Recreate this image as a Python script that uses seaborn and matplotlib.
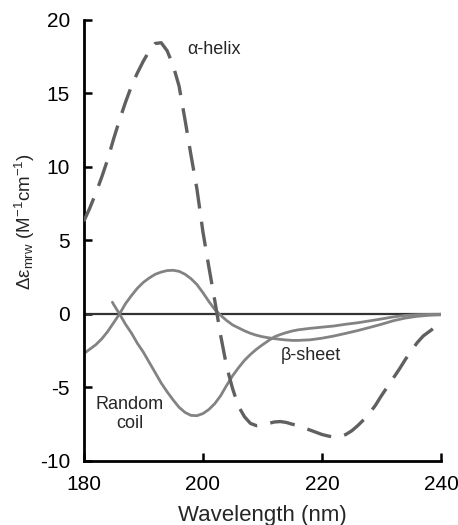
import matplotlib
matplotlib.use("Agg")
import matplotlib.pyplot as plt
import seaborn as sns
import pandas as pd

sns.set_theme(style="ticks")
plt.rcParams['font.family'] = ['Liberation Sans', 'DejaVu Sans']
plt.rcParams['mathtext.fontset'] = 'custom'
plt.rcParams['mathtext.rm'] = 'Liberation Sans'
plt.rcParams['mathtext.it'] = 'Liberation Sans'
plt.rcParams['mathtext.default'] = 'regular'
plt.rcParams['axes.unicode_minus'] = False

# alpha-helix (dashed)
helix_wl = [180, 181, 182, 183, 184, 185, 186, 187, 188, 189, 190, 191, 192, 193, 194, 195, 196, 197,
            198, 199, 200, 201, 202, 203, 204, 205, 206, 207, 208, 209, 210, 211, 212, 213, 214, 215,
            216, 217, 218, 219, 220, 221, 222, 223, 224, 225, 226, 227, 228, 229, 230, 231, 232, 233,
            234, 235, 236, 237, 238, 239, 240]
helix_val = [6.3, 7.2, 8.2, 9.3, 10.5, 11.9, 13.2, 14.4, 15.5, 16.4, 17.2, 17.9, 18.4, 18.45, 17.9, 16.9, 15.5, 13.2,
             10.8, 8.5, 5.6, 3.2, 0.9, -1.5, -3.6, -5.1, -6.3, -7.0, -7.45, -7.6, -7.55, -7.45, -7.35, -7.32, -7.38, -7.5,
             -7.6, -7.75, -7.9, -8.05, -8.2, -8.3, -8.38, -8.35, -8.2, -7.95, -7.6, -7.2, -6.75, -6.2, -5.55, -4.95, -4.35, -3.75,
             -3.1, -2.5, -1.95, -1.5, -1.2, -0.9, -0.63]

# beta-sheet (solid)
sheet_wl = [180, 181, 182, 183, 184, 185, 186, 187, 188, 189, 190, 191, 192, 193, 194, 195, 196, 197,
            198, 199, 200, 201, 202, 203, 204, 205, 206, 207, 208, 209, 210, 211, 212, 213, 214, 215,
            216, 218, 220, 222, 224, 226, 228, 230, 232, 234, 236, 238, 240]
sheet_val = [-2.7, -2.4, -2.1, -1.7, -1.2, -0.6, 0.0, 0.7, 1.25, 1.75, 2.15, 2.45, 2.7, 2.85, 2.95, 2.97, 2.9, 2.7,
             2.4, 2.0, 1.45, 0.85, 0.3, -0.1, -0.45, -0.75, -0.95, -1.15, -1.32, -1.45, -1.55, -1.62, -1.68, -1.73, -1.77, -1.8,
             -1.8, -1.76, -1.65, -1.5, -1.32, -1.13, -0.92, -0.7, -0.46, -0.28, -0.16, -0.09, -0.06]

# random coil (solid)
coil_wl = [184.8, 185, 186, 187, 188, 189, 190, 191, 192, 193, 194, 195, 196, 197, 198, 199, 200, 201,
           202, 203, 204, 205, 206, 207, 208, 209, 210, 211, 212, 213, 214, 215, 216, 218, 220, 222,
           224, 226, 228, 230, 232, 234, 236, 238, 240]
coil_val = [0.8, 0.65, 0.0, -0.7, -1.3, -2.0, -2.6, -3.3, -4.0, -4.7, -5.3, -5.85, -6.35, -6.7, -6.9, -6.92, -6.78, -6.5,
            -6.1, -5.55, -4.85, -4.2, -3.65, -3.15, -2.75, -2.4, -2.1, -1.82, -1.56, -1.4, -1.27, -1.16, -1.08, -0.98, -0.9, -0.82,
            -0.7, -0.6, -0.47, -0.34, -0.2, -0.1, -0.05, -0.03, -0.02]

xticks = [180, 200, 220, 240]
yticks = [-10, -5, 0, 5, 10, 15, 20]

helix = pd.DataFrame({'wl': helix_wl, 'val': helix_val})
sheet = pd.DataFrame({'wl': sheet_wl, 'val': sheet_val})
coil = pd.DataFrame({'wl': coil_wl, 'val': coil_val})

fig = plt.figure(figsize=(4.58, 5.25), dpi=100)
ax = fig.add_axes([0.183, 0.122, 0.78, 0.84])

ax.axhline(0, color='#333333', lw=1.6, zorder=1)
sns.lineplot(data=sheet, x='wl', y='val', ax=ax, color='#838383', lw=2.0, zorder=2)
sns.lineplot(data=coil, x='wl', y='val', ax=ax, color='#838383', lw=2.0, zorder=2)
sns.lineplot(data=helix, x='wl', y='val', ax=ax, color='#606060', lw=2.4, zorder=3,
             linestyle=(0, (7.5, 4.0)))

ax.set_xlim(180, 240)
ax.set_ylim(-10, 20)
ax.set_xticks(xticks)
ax.set_yticks(yticks)
ax.tick_params(direction='in', length=6, width=1.8, labelsize=15, colors='black')
ax.tick_params(axis='y', pad=10)
ax.tick_params(axis='x', pad=10)
for s in ['top', 'right']:
    ax.spines[s].set_visible(False)
for s in ['left', 'bottom']:
    ax.spines[s].set_linewidth(2.0)
    ax.spines[s].set_color('black')

ax.set_xlabel('Wavelength (nm)', fontsize=16, labelpad=8)
ax.set_ylabel(r'$\Delta\varepsilon_{mrw}$ (M$^{-1}$cm$^{-1}$)', fontsize=13.5)
ax.yaxis.set_label_coords(-0.13, 0.542)

ax.text(201.8, 18.0, 'α-helix', fontsize=13, ha='center', va='center')
ax.text(218.2, -2.8, 'β-sheet', fontsize=13, ha='center', va='center')
ax.text(187.7, -6.8, 'Random\ncoil', fontsize=13, ha='center', va='center', linespacing=1.2)

fig.savefig('out.png', dpi=100)
